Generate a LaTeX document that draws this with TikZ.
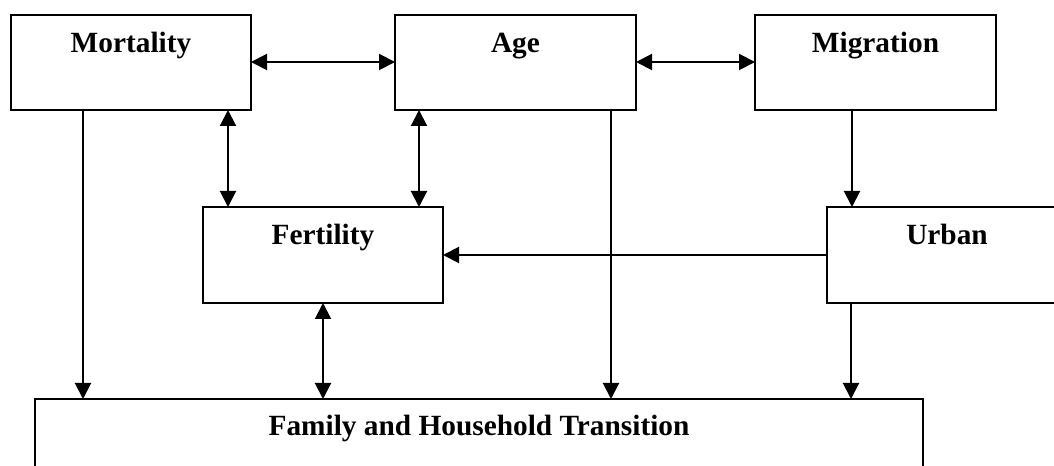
\documentclass[tikz,border=0pt]{standalone}
\usepackage{fontspec}
\setmainfont{Liberation Serif}
\usetikzlibrary{arrows.meta,calc}
\begin{document}
\begin{tikzpicture}[x=0.75pt,y=-0.75pt,
 box/.style={draw,line width=1.5pt,rectangle,inner sep=0pt,outer sep=0pt,anchor=north west},
 lbl/.style={font=\fontsize{22}{26}\selectfont\bfseries,anchor=base,inner sep=0pt},
 arr/.style={line width=1.5pt,-{Triangle[length=12pt,width=12pt]}},
 darr/.style={line width=1.5pt,{Triangle[length=12pt,width=12pt]}-{Triangle[length=12pt,width=12pt]}}]
\clip (0,0) rectangle (1054,466);
\fill[white] (0,0) rectangle (1054,466);
% boxes
\node[box,minimum width=180pt,minimum height=71.25pt] (mort) at (11,15) {};
\node[box,minimum width=180.75pt,minimum height=71.25pt] (age) at (395,15) {};
\node[box,minimum width=180.75pt,minimum height=71.25pt] (mig) at (755,15) {};
\node[box,minimum width=180pt,minimum height=72pt] (fert) at (203,207) {};
\node[box,minimum width=180pt,minimum height=72pt] (urb) at (827,207) {};
\node[box,minimum width=666pt,minimum height=90pt] (fam) at (35,399) {};
% labels
\node[lbl] (tmort) at (131,53) {Mortality};
\node[lbl] (tage) at (515.5,53) {Age};
\node[lbl] (tmig) at (875.5,53) {Migration};
\node[lbl] (tfert) at (323,245) {Fertility};
\node[lbl] (turb) at (947,245) {Urban};
\node[lbl] (tfam) at (479,436) {Family and Household Transition};
% connectors
\draw[darr] ($(mort.north east)+(0,47)$) -- ($(age.north west)+(0,47)$);
\draw[darr] ($(age.north east)+(0,47)$) -- ($(mig.north west)+(0,47)$);
\draw[darr] ($(mort.south west)+(217,0)$) -- ($(fert.north west)+(25,0)$);
\draw[darr] ($(age.south west)+(24,0)$) -- ($(fert.north east)+(-24,0)$);
\draw[arr] ($(mort.south west)+(72,0)$) -- ($(fam.north west)+(48,0)$);
\draw[arr] ($(age.south west)+(216,0)$) -- ($(fam.north west)+(576,0)$);
\draw[arr] ($(mig.south west)+(97,0)$) -- ($(urb.north west)+(25,0)$);
\draw[arr] ($(urb.north west)+(0,48)$) -- ($(fert.north east)+(0,48)$);
\draw[darr] (fert.south) -- ($(fam.north west)+(288,0)$);
\draw[arr] ($(urb.south west)+(24,0)$) -- ($(fam.north west)+(816,0)$);
\end{tikzpicture}
\end{document}
